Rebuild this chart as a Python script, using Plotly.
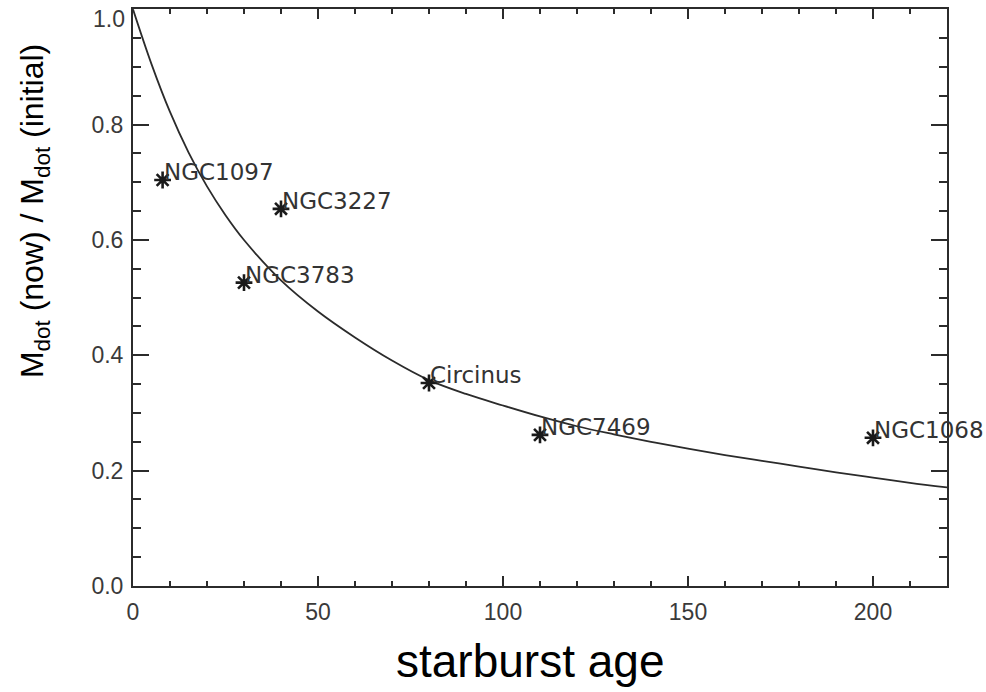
import plotly.graph_objects as go

# Galaxies: starburst age and the ratio of present to initial accretion rate
galaxies = ["NGC1097", "NGC3227", "NGC3783", "Circinus", "NGC7469", "NGC1068"]
ages = [8, 40, 30, 80, 110, 200]
ratios = [0.704, 0.654, 0.526, 0.352, 0.262, 0.257]

# Model decline curve sampled along the age axis
curve_age = [0, 5, 10, 15, 20, 25, 30, 40, 50, 60, 70, 80, 90, 100, 110, 120,
             130, 140, 150, 160, 170, 180, 190, 200, 210, 220]
curve_ratio = [1.0, 0.905, 0.822, 0.752, 0.693, 0.643, 0.600, 0.530, 0.476, 0.431,
               0.391, 0.357, 0.333, 0.313, 0.294, 0.277, 0.263, 0.250, 0.238, 0.227,
               0.217, 0.207, 0.197, 0.188, 0.179, 0.171]

x_ticks = [0, 50, 100, 150, 200]
y_ticks = [0.0, 0.2, 0.4, 0.6, 0.8, 1.0]
y_labels = ["0.0", "0.2", "0.4", "0.6", "0.8", "1.0"]

ink = "#2b2b2b"
tick_font = dict(family="Liberation Sans, Arial", size=23, color="#3a3a3a")

fig = go.Figure()

fig.add_trace(go.Scatter(
    x=curve_age, y=curve_ratio, mode="lines",
    line=dict(color=ink, width=1.8, shape="spline", smoothing=1.0),
    hoverinfo="skip", showlegend=False,
))

fig.add_trace(go.Scatter(
    x=ages, y=ratios, mode="markers",
    marker=dict(symbol="asterisk-open", size=14, color="#1a1a1a",
                line=dict(color="#1a1a1a", width=2.6)),
    showlegend=False,
))

for name, a, r in zip(galaxies, ages, ratios):
    fig.add_annotation(
        x=a, y=r, xref="x", yref="y", text=name, showarrow=False,
        xanchor="left", yanchor="middle", xshift=-1, yshift=8,
        font=dict(family="DejaVu Sans", size=23, color="#333333"),
    )

# The top y label sits just under the frame so it stays on the page
fig.add_annotation(
    x=0, y=y_ticks[-1], xref="paper", yref="y", text=y_labels[-1],
    showarrow=False, xanchor="right", yanchor="top", xshift=-6, yshift=5,
    font=tick_font,
)

# Axis titles
fig.add_annotation(
    x=0.4877, y=-0.13, xref="paper", yref="paper",
    text="starburst age", showarrow=False,
    xanchor="center", yanchor="middle",
    font=dict(family="Liberation Sans, Arial", size=46, color="black"),
)
fig.add_annotation(
    x=-0.121, y=0.649, xref="paper", yref="paper",
    text="M<sub>dot</sub> (now) / M<sub>dot</sub> (initial)", showarrow=False,
    textangle=-90, xanchor="center", yanchor="middle",
    font=dict(family="Liberation Sans, Arial", size=32, color="black"),
)

axis_common = dict(
    showgrid=False, zeroline=False, showline=True, linecolor=ink, linewidth=2,
    mirror="ticks", ticks="inside", tickcolor=ink, tickwidth=1.5,
    tickfont=tick_font,
)

fig.update_xaxes(
    range=[0, 220], tickvals=x_ticks, ticklen=10,
    minor=dict(dtick=10, ticks="inside", ticklen=5, tickcolor=ink, tickwidth=1.5),
    ticklabelstandoff=4,
    **axis_common,
)
fig.update_yaxes(
    range=[0, 1.0005], tickvals=y_ticks, ticktext=y_labels[:-1] + [""], ticklen=16,
    minor=dict(dtick=0.05, ticks="inside", ticklen=8, tickcolor=ink, tickwidth=1.5),
    ticklabelstandoff=3,
    **axis_common,
)

fig.update_layout(
    width=986, height=692,
    margin=dict(l=133, r=39, t=7, b=106, pad=0),
    paper_bgcolor="white", plot_bgcolor="white",
)

fig.write_html("out.html")
